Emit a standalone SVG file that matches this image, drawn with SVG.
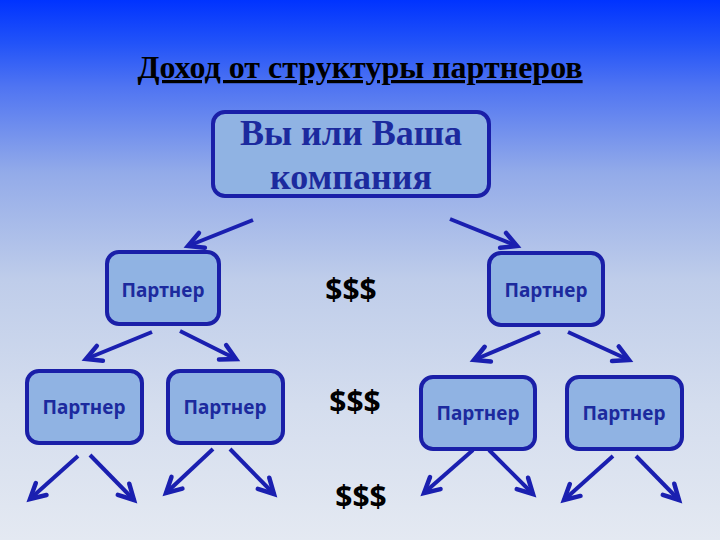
<svg xmlns="http://www.w3.org/2000/svg" width="720" height="540" viewBox="0 0 720 540">
<defs>
<linearGradient id="bg" x1="0" y1="0" x2="0" y2="1">
<stop offset="0" stop-color="#0033ff"/>
<stop offset="0.08" stop-color="#2253f8"/>
<stop offset="0.16" stop-color="#4f74f2"/>
<stop offset="0.32" stop-color="#93abe9"/>
<stop offset="0.52" stop-color="#bfcdea"/>
<stop offset="0.75" stop-color="#d4ddee"/>
<stop offset="1" stop-color="#e4e9f2"/>
</linearGradient>
<marker id="ah" markerUnits="userSpaceOnUse" markerWidth="30" markerHeight="30" refX="0" refY="0" viewBox="-20 -15 30 30" orient="auto" overflow="visible">
<path d="M-15,-8 L0,0 L-15,8" fill="none" stroke="#1a1fb0" stroke-width="4.5" stroke-linejoin="miter" stroke-linecap="round"/>
</marker>
</defs>
<style>
.box{fill:#90b3e3;stroke:#1a1fa8;stroke-width:4}
.pt{font-family:"Noto Sans","Open Sans",sans-serif;font-weight:bold;font-size:19px;fill:#1c2a9e;text-anchor:middle}
.dl{font-family:"Noto Sans","Open Sans",sans-serif;font-weight:bold;font-size:30px;fill:#000;text-anchor:middle}
.ar{stroke:#1a1fb0;stroke-width:4;fill:none;marker-end:url(#ah)}
.hd{font-family:"Liberation Serif",serif;font-weight:bold;text-anchor:middle}
</style>
<rect x="0" y="0" width="720" height="540" fill="url(#bg)"/>
<text class="hd" x="360" y="78" font-size="32" fill="#000" text-decoration="underline">Доход от структуры партнеров</text>
<g id="top">
<rect class="box" x="213" y="112" width="276" height="84" rx="12"/>
<text class="hd" x="351" y="145" font-size="36" fill="#1c2a9e">Вы или Ваша</text>
<text class="hd" x="351" y="189" font-size="36" fill="#1c2a9e">компания</text>
</g>
<g id="p1"><rect class="box" x="107" y="252" width="112" height="72" rx="12"/><text class="pt" x="163" y="297">Партнер</text></g>
<g id="p2"><rect class="box" x="489" y="253" width="114" height="72" rx="12"/><text class="pt" x="546" y="297">Партнер</text></g>
<g id="p3"><rect class="box" x="27" y="371" width="115" height="72" rx="12"/><text class="pt" x="84" y="414">Партнер</text></g>
<g id="p4"><rect class="box" x="168" y="371" width="115" height="72" rx="12"/><text class="pt" x="225" y="414">Партнер</text></g>
<g id="p5"><rect class="box" x="421" y="377" width="114" height="72" rx="12"/><text class="pt" x="478" y="420">Партнер</text></g>
<g id="p6"><rect class="box" x="567" y="377" width="115" height="72" rx="12"/><text class="pt" x="624" y="420">Партнер</text></g>
<g id="money">
<text class="dl" x="351" y="300">$$$</text>
<text class="dl" x="355" y="412">$$$</text>
<text class="dl" x="361" y="507">$$$</text>
</g>
<g id="connectors">
<line class="ar" x1="253" y1="220" x2="188" y2="246"/>
<line class="ar" x1="450" y1="219" x2="517" y2="246"/>
<line class="ar" x1="152" y1="332" x2="86" y2="359"/>
<line class="ar" x1="180" y1="331" x2="236" y2="359"/>
<line class="ar" x1="540" y1="332" x2="474" y2="360"/>
<line class="ar" x1="568" y1="332" x2="629" y2="360"/>
<line class="ar" x1="78" y1="456" x2="30" y2="499"/>
<line class="ar" x1="90" y1="455" x2="134" y2="500"/>
<line class="ar" x1="213" y1="449" x2="166" y2="493"/>
<line class="ar" x1="230" y1="449" x2="274" y2="494"/>
<line class="ar" x1="473" y1="450" x2="424" y2="493"/>
<line class="ar" x1="489" y1="450" x2="533" y2="494"/>
<line class="ar" x1="613" y1="456" x2="564" y2="500"/>
<line class="ar" x1="636" y1="456" x2="679" y2="500"/>
</g>
</svg>
